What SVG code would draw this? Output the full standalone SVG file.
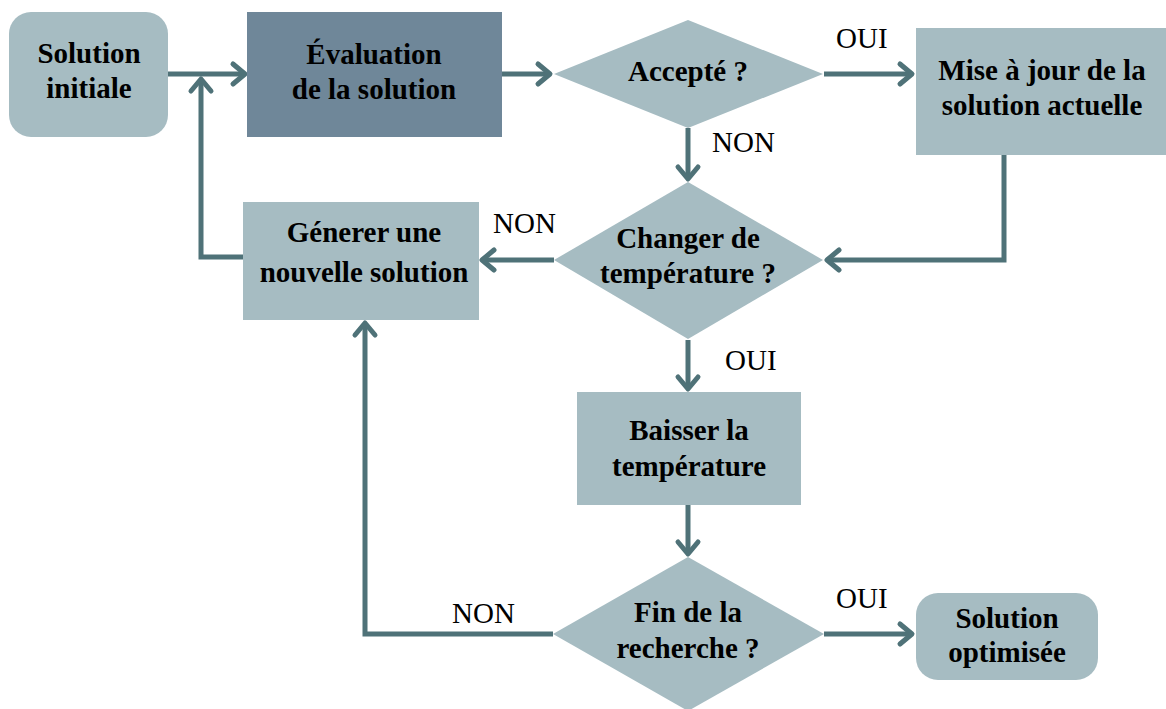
<svg xmlns="http://www.w3.org/2000/svg" width="1166" height="709" viewBox="0 0 1166 709">
<style>
.box{fill:#a6bcc2}
.dark{fill:#6f8799}
.t{font-family:'Liberation Serif','DejaVu Serif',serif;font-size:29px;font-weight:bold;fill:#000;text-anchor:middle}
.lbl{font-family:'Liberation Serif','DejaVu Serif',serif;font-size:29px;fill:#000}
.c{fill:none;stroke:#4f7278;stroke-width:5;marker-end:url(#ah)}
</style>
<defs>
<marker id="ah" markerUnits="userSpaceOnUse" viewBox="0 0 22 26" markerWidth="22" markerHeight="26" refX="17" refY="13" orient="auto" overflow="visible">
<path d="M5,3 L17,13 L5,23" fill="none" stroke="#4f7278" stroke-width="5" stroke-linecap="round" stroke-linejoin="round"/>
</marker>
</defs>
<rect width="1166" height="709" fill="#fff"/>
<g id="connectors">
<path class="c" d="M168,74 H245"/>
<path class="c" d="M502,74 H550"/>
<path class="c" d="M824,74 H912"/>
<path class="c" d="M688,128 V179"/>
<path class="c" d="M1004,155 V260 H827"/>
<path class="c" d="M554,260 H482"/>
<path class="c" d="M243,257 H201 V79"/>
<path class="c" d="M688,340 V389"/>
<path class="c" d="M688,505 V554"/>
<path class="c" d="M553,634 H365 V323"/>
<path class="c" d="M824,634 H912"/>
<text class="lbl" x="836" y="48">OUI</text>
<text class="lbl" x="712" y="152">NON</text>
<text class="lbl" x="493" y="233">NON</text>
<text class="lbl" x="725" y="370">OUI</text>
<text class="lbl" x="452" y="623">NON</text>
<text class="lbl" x="836" y="608">OUI</text>
</g>
<g id="solution-initiale">
<rect class="box" x="9" y="12" width="159" height="125" rx="22"/>
<text class="t" x="89" y="63">Solution</text>
<text class="t" x="89" y="98">initiale</text>
</g>
<g id="evaluation">
<rect class="dark" x="247" y="12" width="255" height="125"/>
<text class="t" x="374" y="64">Évaluation</text>
<text class="t" x="374" y="99">de la solution</text>
</g>
<g id="accepte">
<polygon class="box" points="688,20 823,74 688,128 554,74"/>
<text class="t" x="688" y="81">Accepté ?</text>
</g>
<g id="mise-a-jour">
<rect class="box" x="916" y="28" width="250" height="127"/>
<text class="t" x="1042" y="80">Mise à jour de la</text>
<text class="t" x="1042" y="115">solution actuelle</text>
</g>
<g id="changer-temperature">
<polygon class="box" points="688,182 823,260 688,339 554,260"/>
<text class="t" x="688" y="248">Changer de</text>
<text class="t" x="688" y="283">température ?</text>
</g>
<g id="generer">
<rect class="box" x="243" y="202" width="236" height="118"/>
<text class="t" x="364" y="242">Génerer une</text>
<text class="t" x="364" y="282">nouvelle solution</text>
</g>
<g id="baisser">
<rect class="box" x="577" y="392" width="224" height="113"/>
<text class="t" x="689" y="440">Baisser la</text>
<text class="t" x="689" y="476">température</text>
</g>
<g id="fin-recherche">
<polygon class="box" points="688,557 824,634 688,711 553,634"/>
<text class="t" x="688" y="622">Fin de la</text>
<text class="t" x="688" y="658">recherche ?</text>
</g>
<g id="solution-optimisee">
<rect class="box" x="916" y="593" width="182" height="87" rx="22"/>
<text class="t" x="1007" y="628">Solution</text>
<text class="t" x="1007" y="662">optimisée</text>
</g>
</svg>
